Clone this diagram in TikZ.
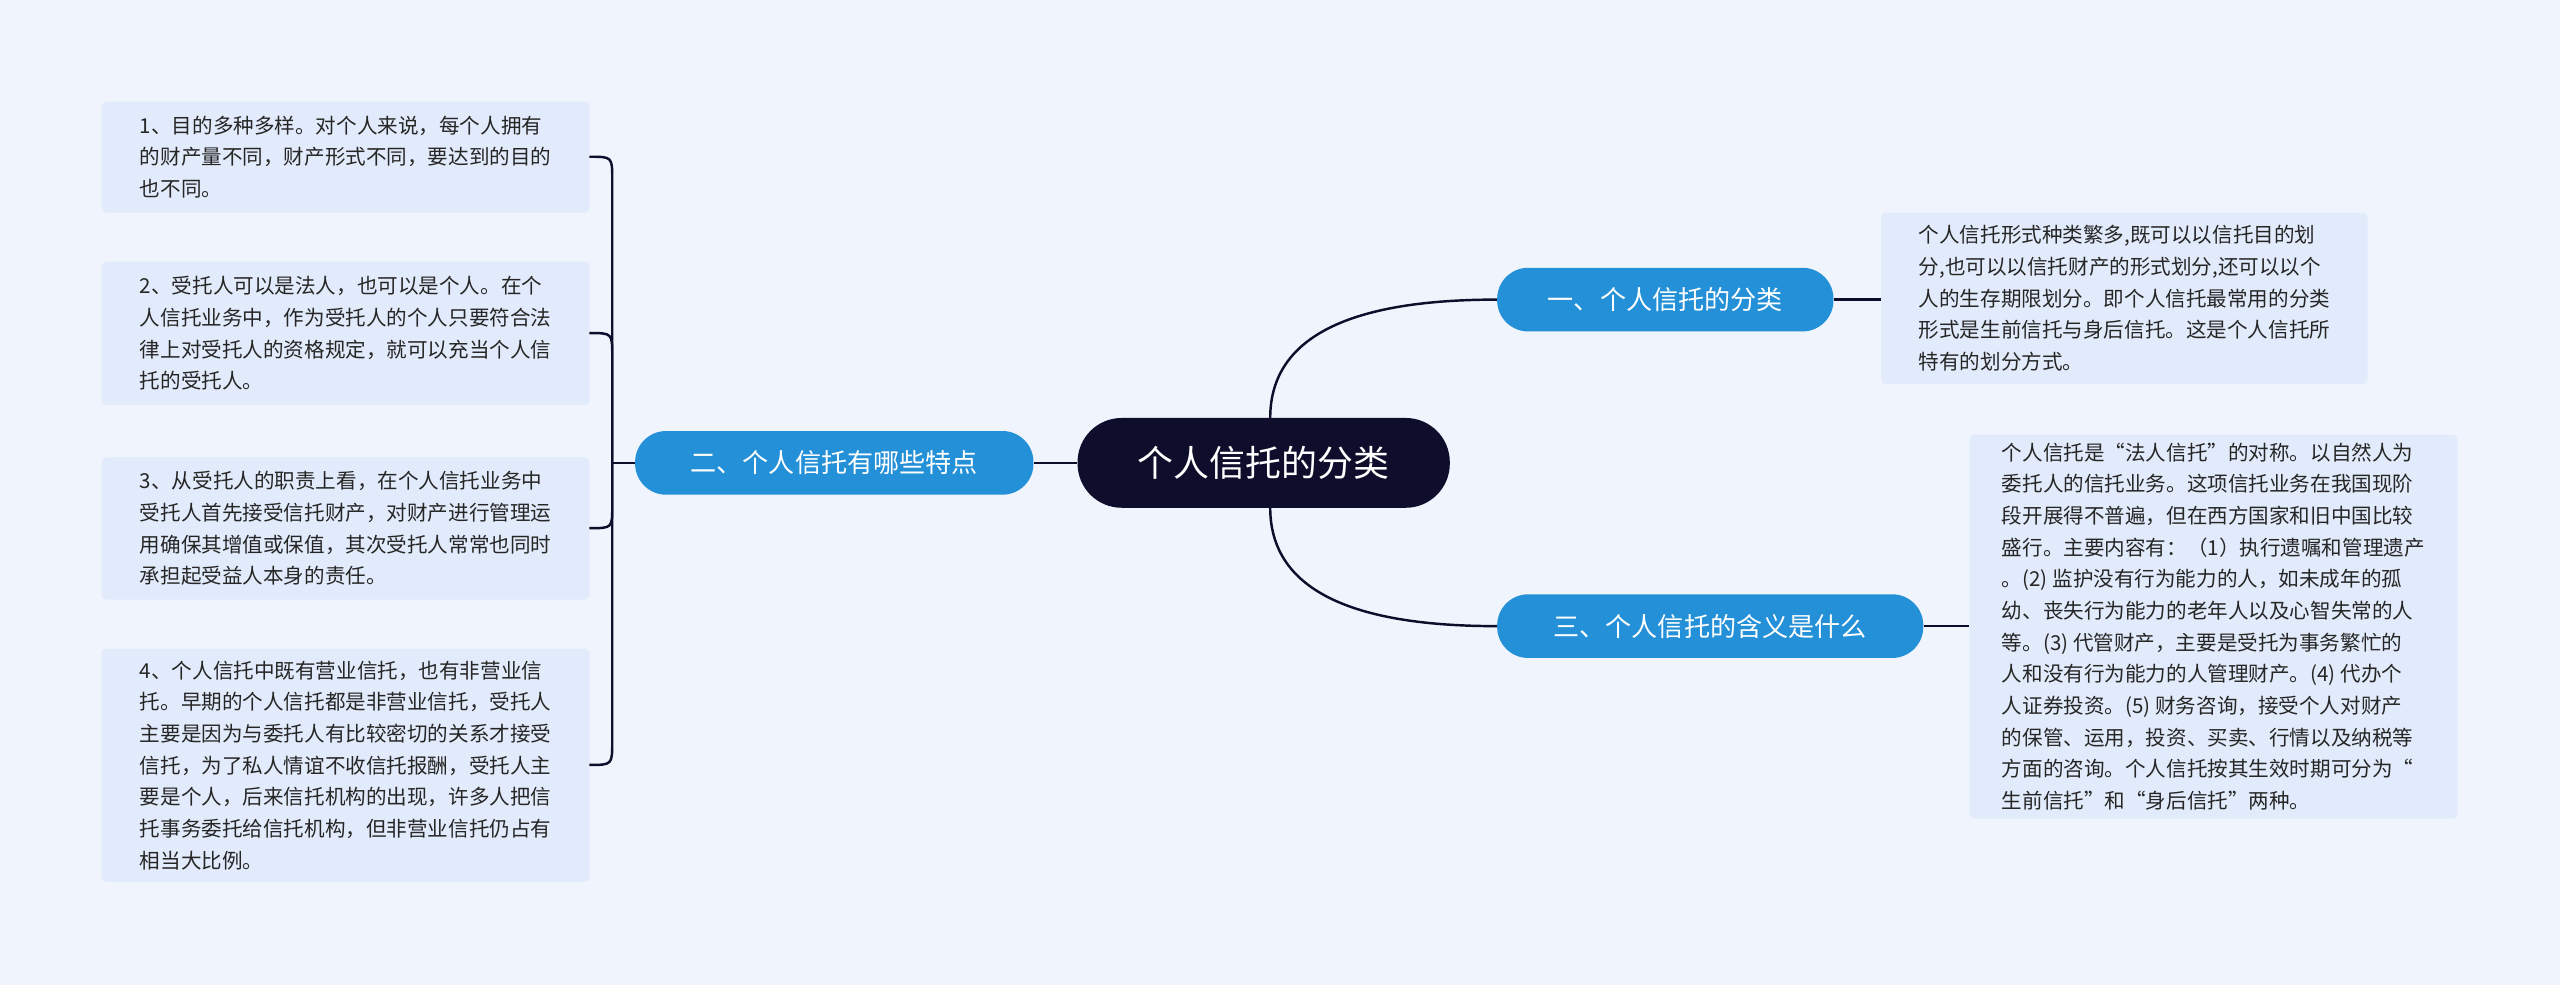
\documentclass[tikz,border=0pt]{standalone}
\usepackage{fontspec}
\setmainfont{Noto Sans CJK SC}
\begin{document}
\begin{tikzpicture}[x=1pt,y=-1pt,
  leaf/.style={fill=leafbg,rounded corners=3pt,align=left,anchor=north west,inner sep=5pt,font=\fontsize{12.6}{19.4}\selectfont,text=black!85},
  br/.style={fill=brblue,rounded corners=19pt,text=white,font=\fontsize{16}{18}\selectfont,minimum height=39pt,inner xsep=14pt},
  ln/.style={draw=navy,line width=1.5pt}]
\definecolor{bg}{HTML}{F0F4FC}
\definecolor{leafbg}{HTML}{E2EBFB}
\definecolor{brblue}{HTML}{2390D8}
\definecolor{navy}{HTML}{0E0E2C}
\useasboundingbox[fill=bg] (0,0) rectangle (1568,603);
\node[fill=navy,rounded corners=27pt,text=white,font=\fontsize{22}{24}\selectfont,minimum width=228pt,minimum height=55pt] (c) at (774,283.5) {个人信托的分类};
\node[br,minimum width=206pt] (b1) at (1020,183.5) {一、个人信托的分类};
\node[br,minimum width=261pt] (b3) at (1047.5,383.5) {三、个人信托的含义是什么};
\node[br,minimum width=244pt] (b2) at (511,283.5) {二、个人信托有哪些特点};
\node[leaf,minimum width=298pt,minimum height=105pt] (r1) at (1152,130) {个人信托形式种类繁多,既可以以信托目的划\\分,也可以以信托财产的形式划分,还可以以个\\人的生存期限划分。即个人信托最常用的分类\\形式是生前信托与身后信托。这是个人信托所\\特有的划分方式。};
\node[leaf,minimum width=299pt,minimum height=234pt] (r3) at (1206,266) {个人信托是“法人信托”的对称。以自然人为\\委托人的信托业务。这项信托业务在我国现阶\\段开展得不普遍，但在西方国家和旧中国比较\\盛行。主要内容有：（1）执行遗嘱和管理遗产\\。(2) 监护没有行为能力的人，如未成年的孤\\幼、丧失行为能力的老年人以及心智失常的人\\等。(3) 代管财产，主要是受托为事务繁忙的\\人和没有行为能力的人管理财产。(4) 代办个\\人证券投资。(5) 财务咨询，接受个人对财产\\的保管、运用，投资、买卖、行情以及纳税等\\方面的咨询。个人信托按其生效时期可分为“\\生前信托”和“身后信托”两种。};
\node[leaf,minimum width=299pt,minimum height=68pt] (l1) at (62,62) {1、目的多种多样。对个人来说，每个人拥有\\的财产量不同，财产形式不同，要达到的目的\\也不同。};
\node[leaf,minimum width=299pt,minimum height=88pt] (l2) at (62,160) {2、受托人可以是法人，也可以是个人。在个\\人信托业务中，作为受托人的个人只要符合法\\律上对受托人的资格规定，就可以充当个人信\\托的受托人。};
\node[leaf,minimum width=299pt,minimum height=87pt] (l3) at (62,280) {3、从受托人的职责上看，在个人信托业务中\\受托人首先接受信托财产，对财产进行管理运\\用确保其增值或保值，其次受托人常常也同时\\承担起受益人本身的责任。};
\node[leaf,minimum width=299pt,minimum height=143pt] (l4) at (62,397) {4、个人信托中既有营业信托，也有非营业信\\托。早期的个人信托都是非营业信托，受托人\\主要是因为与委托人有比较密切的关系才接受\\信托，为了私人情谊不收信托报酬，受托人主\\要是个人，后来信托机构的出现，许多人把信\\托事务委托给信托机构，但非营业信托仍占有\\相当大比例。};
\coordinate (k) at (375,283.5);
\draw[ln] (c.north) ++(0,0) coordinate (ct) (778,256) .. controls (778,200) and (840,183.5) .. (b1.west);
\draw[ln] (778,311) .. controls (778,367) and (840,383.5) .. (b3.west);
\draw[ln] (c.west) -- (b2.east);
\draw[ln] (b1.east) -- (r1.west|-b1.east);
\draw[ln] (b3.east) -- (r3.west|-b3.east);
\draw[ln] (b2.west) -- (k);
\foreach \l in {l1,l2,l3,l4}{
  \draw[ln] (k) .. controls (375,283.5) and (375,283.5) .. (375,283.5) -- (375,283.5);
}
\draw[ln] (k) -- (375,110) .. controls (375,96) .. (361,96);
\draw[ln] (k) -- (375,218) .. controls (375,204) .. (361,204);
\draw[ln] (k) -- (375,310) .. controls (375,323.5) .. (361,323.5);
\draw[ln] (k) -- (375,454) .. controls (375,468.5) .. (361,468.5);
\end{tikzpicture}
\end{document}
